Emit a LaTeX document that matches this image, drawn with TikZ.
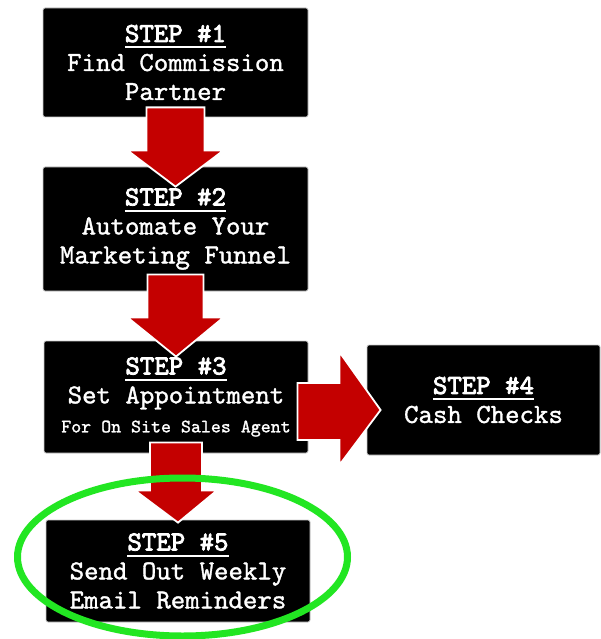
\documentclass[tikz,border=0pt]{standalone}
\usepackage{fontspec}
\newfontfamily\stepfont[FakeBold=1.3]{lmmono10-regular.otf}
\newfontfamily\steptitlefont[FakeBold=3]{lmmono10-regular.otf}
\usetikzlibrary{calc}
\newcommand{\steptitle}[1]{\setbox0\hbox{\steptitlefont #1}\rlap{\rule[-6.5pt]{\wd0}{2pt}}\box0}
% down arrow: from, to, shaft half width, head half width, top above from, head base below from, tip below to
\newcommand{\downblock}[7]{%
  \filldraw[redarrow] ([xshift=-#3pt,yshift=#5pt]#1.south) -- ([xshift=-#3pt,yshift=-#6pt]#1.south)
    -- ([xshift=-#4pt,yshift=-#6pt]#1.south) -- ([yshift=-#7pt]#2.north)
    -- ([xshift=#4pt,yshift=-#6pt]#1.south) -- ([xshift=#3pt,yshift=-#6pt]#1.south)
    -- ([xshift=#3pt,yshift=#5pt]#1.south) -- cycle;}
\begin{document}
\begin{tikzpicture}[x=1pt, y=-1pt, line join=round,
  stepbox/.style={fill=black, draw=black!20, line width=0.8pt, rounded corners=2pt, text=white,
    align=center, inner sep=0pt, font=\stepfont\fontsize{27.5}{29}\selectfont},
  redarrow/.style={fill={rgb,255:red,196;green,0;blue,0}, draw=white, line width=1.8pt, line join=miter},
  hilite/.style={draw={rgb,255:red,34;green,230;blue,34}, line width=7pt}]
\fill[white] (0,0) rectangle (600,639);
\useasboundingbox (0,0) rectangle (600,639);

\node[stepbox, minimum width=265, minimum height=109] (s1) at (175.5,62.5) {\steptitle{STEP \#1}\\Find Commission\\Partner};
\node[stepbox, minimum width=265, minimum height=124] (s2) at (175.5,229) {\steptitle{STEP \#2}\\Automate Your\\Marketing Funnel};
\node[stepbox, minimum width=264, minimum height=112] (s3) at (176,397) {\steptitle{STEP \#3}\\Set Appointment\\{\fontsize{19}{20}\selectfont For On Site Sales Agent}};
\node[stepbox, minimum width=233, minimum height=110] (s4) at (483.5,400) {\steptitle{STEP \#4}\\Cash Checks};
\node[stepbox, minimum width=264, minimum height=102] (s5) at (178,571) {\steptitle{STEP \#5}\\Send Out Weekly\\Email Reminders};

\downblock{s1}{s2}{29}{48}{10}{33}{20}
\downblock{s2}{s3}{28}{48}{17}{26}{16}
\downblock{s3}{s5}{26}{41}{11}{37}{3}
% step 3 to step 4
\filldraw[redarrow] ([xshift=-11pt,yshift=14pt]s3.east) -- ([xshift=31pt,yshift=14pt]s3.east)
  -- ([xshift=31pt,yshift=45pt]s3.east) -- ([xshift=14pt,yshift=-10pt]s4.west)
  -- ([xshift=31pt,yshift=-68pt]s3.east) -- ([xshift=31pt,yshift=-43pt]s3.east)
  -- ([xshift=-11pt,yshift=-43pt]s3.east) -- cycle;

\draw[hilite] ([xshift=4.5pt,yshift=14pt]s5.center) ellipse [x radius=165, y radius=79];
\end{tikzpicture}
\end{document}
